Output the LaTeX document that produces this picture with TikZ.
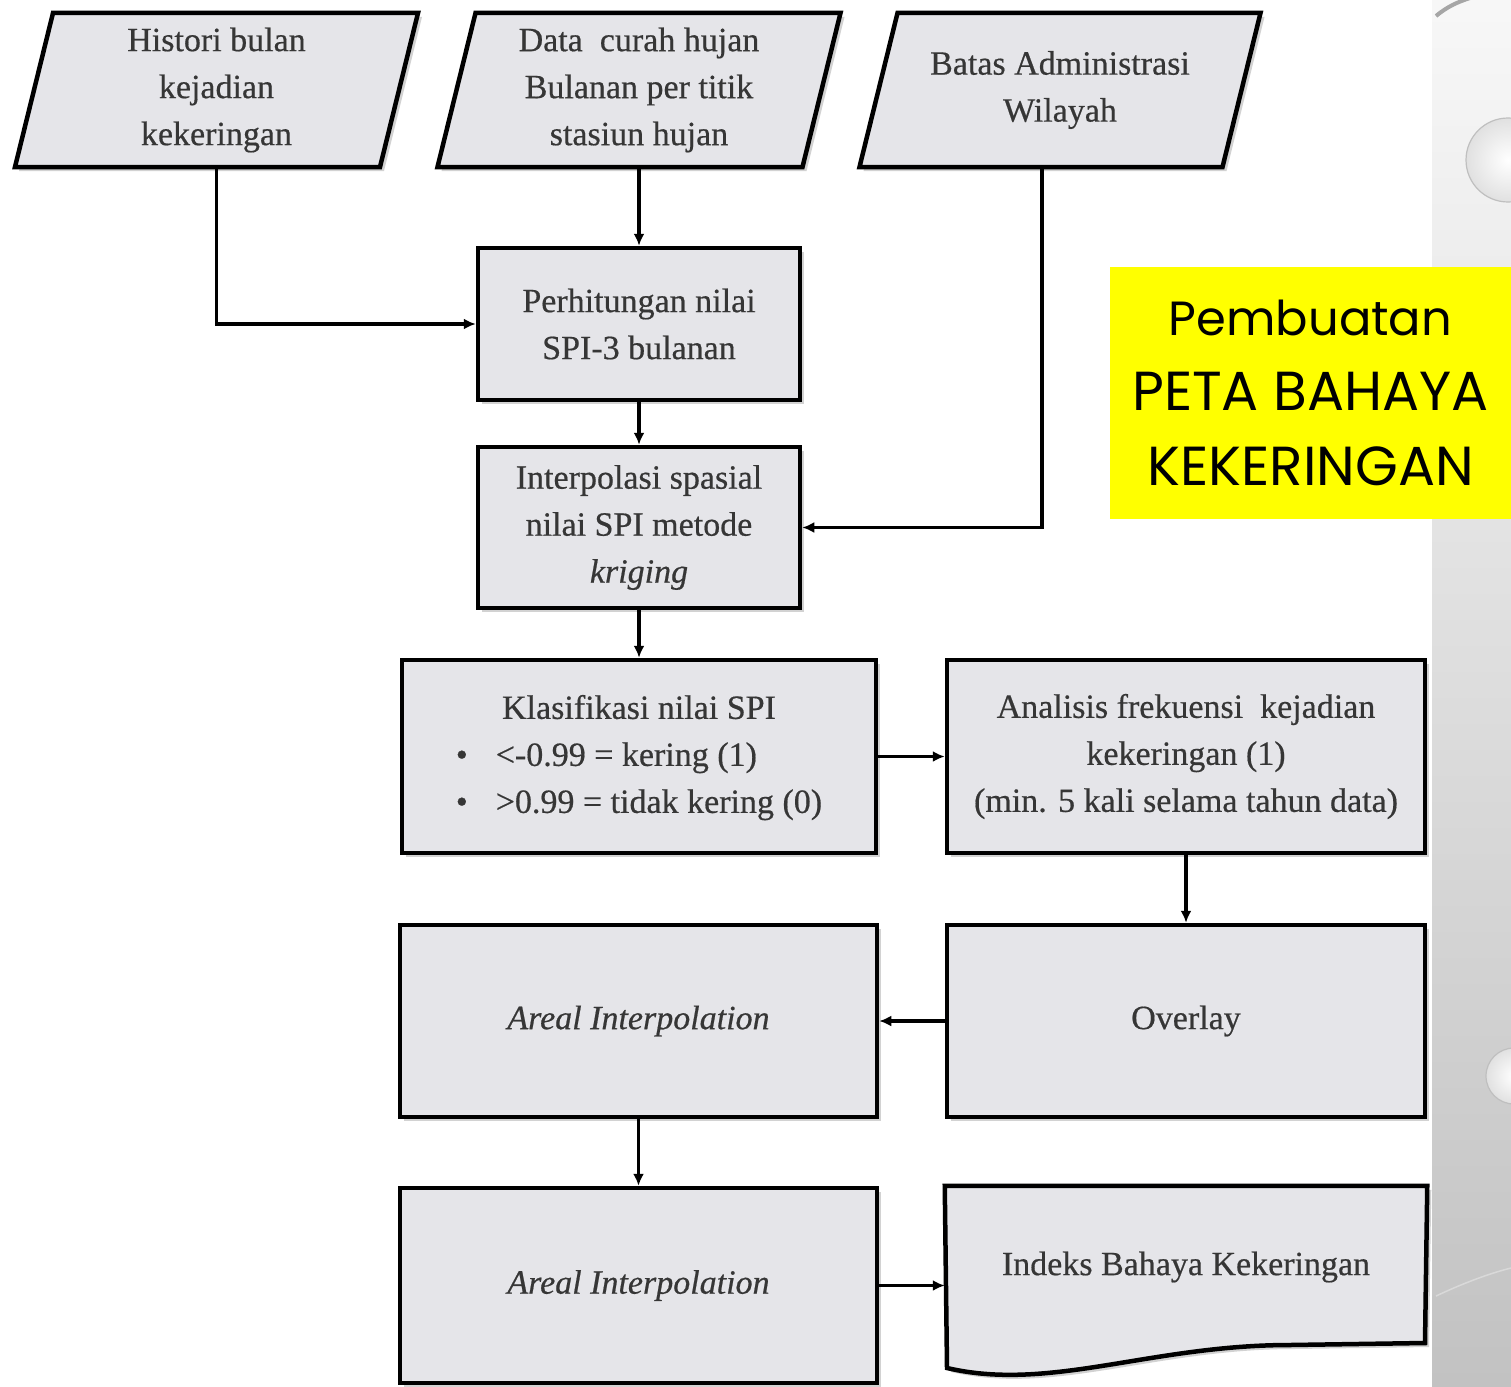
\documentclass[tikz,border=0pt]{standalone}
\usepackage{fontspec}
\setmainfont{Liberation Serif}
\newfontfamily\flowfont{Liberation Serif}[FakeBold=0.5]
\newfontfamily\titlefont{Poppins}
\usetikzlibrary{arrows.meta,shadows,backgrounds}

\definecolor{boxfill}{HTML}{E5E5E9}
\definecolor{inktext}{HTML}{363636}
\definecolor{hiyellow}{HTML}{FFFF00}
\definecolor{stripgray}{HTML}{C2C2C2}

\tikzset{
  flowtext/.style={text=inktext, align=center, font=\flowfont\fontsize{34}{47}\selectfont},
  outline/.style={draw=black, line width=4.5pt, fill=boxfill, line join=miter,
    drop shadow={opacity=0.35, shadow xshift=4pt, shadow yshift=-4pt}},
  procbox/.style={outline, flowtext, rectangle, inner sep=0pt},
  inputslot/.style={flowtext, rectangle, inner sep=0pt, outer sep=0pt},
  link/.style={line width=3.5pt, -{Latex[length=12pt,width=11pt]}},
  bubble/.style={line width=1.2pt, draw=black!25, inner color=white, outer color=black!12}
}

\begin{document}
\begin{tikzpicture}[x=1pt, y=-1pt]
\useasboundingbox (0,0) rectangle (1511,1386);

% input data (outlines drawn on the background layer below)
\node[inputslot, minimum width=365, minimum height=154] (p1) at (216.5,90)
  {Histori bulan\\kejadian\\kekeringan};
\node[inputslot, minimum width=365, minimum height=154] (p2) at (639,90)
  {Data\ \ curah hujan\\Bulanan per titik\\stasiun hujan};
\node[inputslot, minimum width=363, minimum height=154] (p3) at (1060,90)
  {Batas Administrasi\\Wilayah};

% processing steps
\node[procbox, minimum width=322, minimum height=152] (perh) at (639,324)
  {Perhitungan nilai\\SPI-3 bulanan};
\node[procbox, minimum width=322, minimum height=161] (interp) at (639,527.5)
  {Interpolasi spasial\\nilai SPI metode\\\textit{kriging}};
\node[procbox, minimum width=474, minimum height=193] (klas) at (639,756.5)
  {\begin{tabular}{@{}l@{}}
     \multicolumn{1}{c}{Klasifikasi nilai SPI}\\
     \textbullet\hspace{28pt}<-0.99 = kering (1)\\
     \textbullet\hspace{28pt}>0.99 = tidak kering (0)
   \end{tabular}};
\node[procbox, minimum width=478, minimum height=193] (anal) at (1186,756.5)
  {Analisis frekuensi\ \ kejadian\\kekeringan (1)\\(min. 5 kali selama tahun data)};
\node[procbox, minimum width=477, minimum height=192] (areal1) at (638.5,1021)
  {\textit{Areal Interpolation}};
\node[procbox, minimum width=478, minimum height=192] (overlay) at (1186,1021)
  {Overlay};
\node[procbox, minimum width=477, minimum height=195] (areal2) at (638.5,1285.5)
  {\textit{Areal Interpolation}};

% output document
\node[inner sep=0pt, outer sep=2.25pt, minimum width=478, minimum height=180] (idx) at (1186,1278) {};
\draw[outline] (idx.north west) -- (idx.north east) -- (1425,1343)
  -- (1290,1345) .. controls (1150,1345) and (1050,1392) .. (947,1368) -- cycle;
\node[flowtext] (idxtext) at (1186,1267) {Indeks Bahaya Kekeringan};

\begin{scope}[on background layer]
  \fill[white] (0,0) rectangle (1511,1386);
  % decorative side strip
  \shade[top color=white!97!black, bottom color=stripgray] (1432,0) rectangle (1511,1386);
  \begin{scope}
    \clip (1432,0) rectangle (1511,1386);
    \draw[line width=4pt, black!35] (1436,16) .. controls (1448,6) and (1458,2) .. (1470,-2);
    \draw[bubble] (1508,160) circle[radius=42];
    \draw[bubble] (1514,1076) circle[radius=28];
    \draw[line width=1.5pt, white!85!black] (1436,1296) .. controls (1470,1280) and (1495,1272) .. (1511,1268);
  \end{scope}
  % parallelogram outlines of the input nodes
  \foreach \n in {p1,p2,p3}{
    \draw[outline] ([xshift=-19pt]\n.south west) -- ([xshift=19pt]\n.north west)
      -- ([xshift=19pt]\n.north east) -- ([xshift=-19pt]\n.south east) -- cycle;
  }
\end{scope}

% connectors
\draw[link] (p1.south) |- (perh.west);
\draw[link] (p2.south) -- (perh.north);
\draw[link] ([xshift=-18pt]p3.south) |- (interp.east);
\draw[link] (perh) -- (interp);
\draw[link] (interp) -- (klas);
\draw[link] (klas) -- (anal);
\draw[link] (anal) -- (overlay);
\draw[link] (overlay) -- (areal1);
\draw[link] (areal1) -- (areal2);
\draw[link] (areal2.east) -- (areal2.east -| idx.west);

% title tag
\node[fill=hiyellow, minimum width=401, minimum height=252, inner sep=0pt,
  align=center, font=\titlefont\fontsize{55}{75}\selectfont] (title) at (1310.5,393)
  {\fontsize{48}{75}\selectfont Pembuatan\\
   PETA BAHAYA\\
   KEKERINGAN};
\end{tikzpicture}
\end{document}
